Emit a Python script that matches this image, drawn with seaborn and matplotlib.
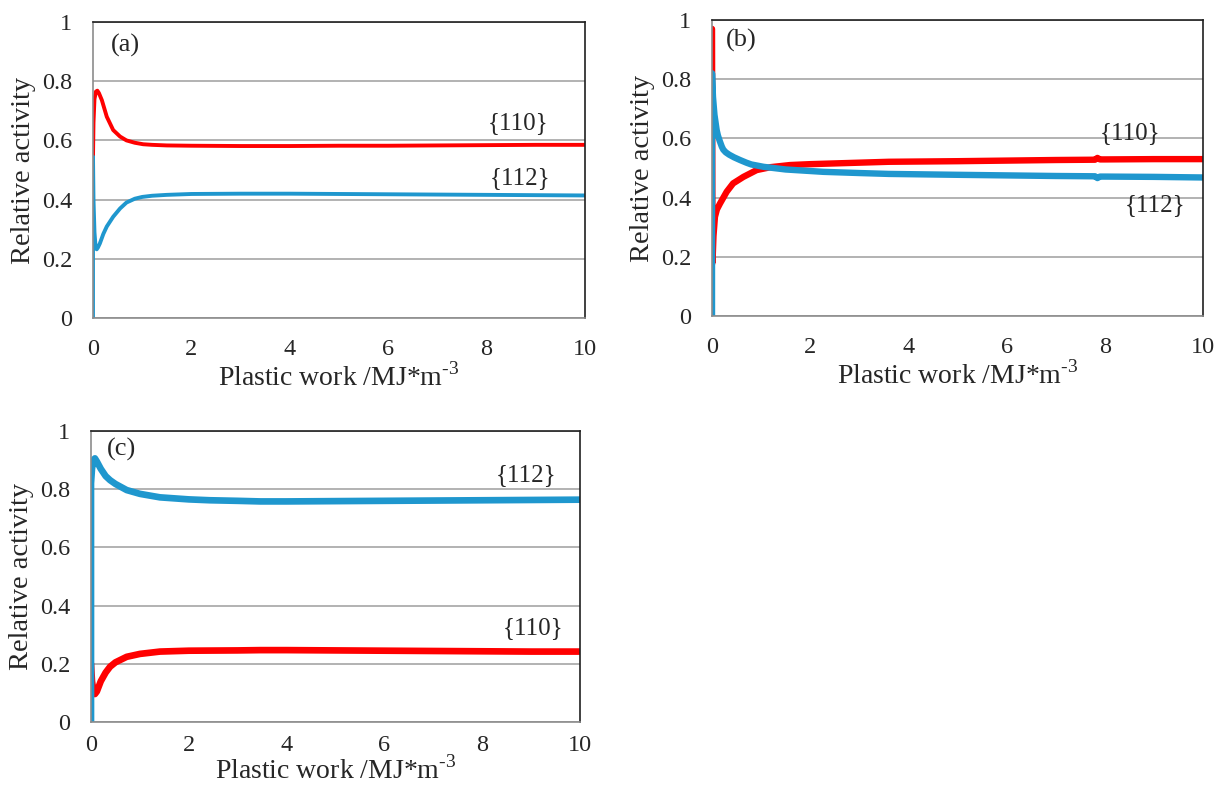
import pandas as pd
import matplotlib.pyplot as plt
import seaborn as sns

# ---------------------------------------------------------------------------
# Data (plastic work in MJ/m^3, relative activity)
# ---------------------------------------------------------------------------
# (a)
a_red_x = [0, 0.01, 0.03, 0.06, 0.088, 0.12, 0.18, 0.28, 0.41, 0.55, 0.68, 0.85, 1.02, 1.2, 1.5, 2, 3, 4, 5, 6, 7, 8, 9, 10]
a_red_y = [0.545, 0.66, 0.74, 0.765, 0.768, 0.76, 0.736, 0.68, 0.635, 0.613, 0.6, 0.592, 0.587, 0.585, 0.583,
           0.582, 0.581, 0.581, 0.582, 0.582, 0.583, 0.584, 0.585, 0.585]
a_blue_x = [0, 0, 0.01, 0.03, 0.05, 0.075, 0.1, 0.14, 0.21, 0.28, 0.41, 0.55, 0.68, 0.85, 1.0, 1.2, 1.5, 2, 3, 4, 5, 6,
            7, 8, 9, 10]
a_blue_y = [0.0, 0.545, 0.40, 0.29, 0.245, 0.232, 0.238, 0.252, 0.284, 0.309, 0.342, 0.37, 0.39, 0.403, 0.409, 0.413,
            0.416, 0.419, 0.42, 0.42, 0.419, 0.418, 0.417, 0.416, 0.415, 0.414]

# (b)
b_red_x = [0, 0.01, 0.03, 0.06, 0.1, 0.163, 0.3, 0.43, 0.64, 0.91, 1.2, 1.59, 2, 3, 3.6, 5, 6, 7, 7.8, 7.85, 7.9, 8, 9, 10]
b_red_y = [0.97, 0.18, 0.27, 0.335, 0.36, 0.38, 0.42, 0.448, 0.47, 0.493, 0.503, 0.51, 0.513, 0.518, 0.521, 0.523,
           0.525, 0.527, 0.528, 0.534, 0.529, 0.529, 0.53, 0.53]
b_blue_x = [0, 0, 0.02, 0.05, 0.095, 0.12, 0.16, 0.2, 0.23, 0.28, 0.35, 0.45, 0.57, 0.7, 0.8, 1.05, 1.5, 2.27, 3, 3.6, 5,
            6, 7, 7.8, 7.85, 7.9, 8, 9, 10]
b_blue_y = [0.0, 0.82, 0.74, 0.68, 0.628, 0.61, 0.59, 0.572, 0.562, 0.553, 0.545, 0.536, 0.527, 0.518, 0.512, 0.504,
            0.495, 0.487, 0.483, 0.48, 0.477, 0.475, 0.473, 0.472, 0.466, 0.471, 0.471, 0.47, 0.468]

# (c)
c_red_x = [0, 0.02, 0.05, 0.08, 0.12, 0.2, 0.3, 0.39, 0.5, 0.73, 1.0, 1.41, 2, 3, 3.46, 4, 5, 6, 7, 8, 9, 10]
c_red_y = [0.2, 0.14, 0.105, 0.096, 0.105, 0.14, 0.17, 0.19, 0.205, 0.224, 0.234, 0.242, 0.245, 0.246, 0.247, 0.247,
           0.246, 0.245, 0.244, 0.243, 0.242, 0.242]
c_blue_x = [0, 0, 0.02, 0.05, 0.08, 0.12, 0.2, 0.3, 0.39, 0.5, 0.73, 1.0, 1.41, 2, 2.43, 3, 3.46, 4, 5, 6, 7, 8, 9, 10]
c_blue_y = [0.0, 0.82, 0.87, 0.9, 0.906, 0.895, 0.87, 0.845, 0.831, 0.818, 0.797, 0.784, 0.772, 0.765, 0.762, 0.76,
            0.758, 0.758, 0.759, 0.76, 0.761, 0.762, 0.763, 0.764]

# curve labels and panel tags (data coordinates)
panels = {
    'a': dict(red=(a_red_x, a_red_y), blue=(a_blue_x, a_blue_y), lw=2.8,
              labels=[('{110}', 8.64, 0.66), ('{112}', 8.68, 0.472)], tag=(0.65, 0.92)),
    'b': dict(red=(b_red_x, b_red_y), blue=(b_blue_x, b_blue_y), lw=4.6,
              labels=[('{110}', 8.51, 0.617), ('{112}', 9.02, 0.375)], tag=(0.6, 0.93)),
    'c': dict(red=(c_red_x, c_red_y), blue=(c_blue_x, c_blue_y), lw=4.8,
              labels=[('{112}', 8.89, 0.849), ('{110}', 9.03, 0.322)], tag=(0.63, 0.938)),
}

sns.set_theme(style='white')
plt.rcParams['font.family'] = ['Liberation Serif', 'DejaVu Serif']
plt.rcParams['mathtext.fontset'] = 'custom'
plt.rcParams['mathtext.rm'] = 'Liberation Serif'

RED = '#FF0000'
BLUE = '#1F97CE'
GRID = '#A6A6A6'

fig = plt.figure(figsize=(12.23, 7.87), dpi=100)
rects = {
    'a': [93 / 1223, 1 - 318 / 787, 492 / 1223, 296 / 787],
    'b': [712 / 1223, 1 - 316 / 787, 491 / 1223, 296 / 787],
    'c': [91 / 1223, 1 - 722 / 787, 489 / 1223, 291 / 787],
}

for key, p in panels.items():
    ax = fig.add_axes(rects[key])
    rx, ry = p['red']
    bx, by = p['blue']
    red_df = pd.DataFrame({'work': rx, 'act': ry})
    blue_df = pd.DataFrame({'work': bx, 'act': by})
    for df, col in [(red_df, RED), (blue_df, BLUE)]:
        sns.lineplot(data=df, x='work', y='act', ax=ax, color=col, lw=p['lw'],
                     estimator=None, sort=False, legend=False)

    ax.set_xlim(0, 10)
    ax.set_ylim(0, 1)
    ax.set_xticks([0, 2, 4, 6, 8, 10])
    ax.set_xticklabels(['0', '2', '4', '6', '8', '10'])
    ax.set_yticks([0, 0.2, 0.4, 0.6, 0.8, 1])
    ax.set_yticklabels(['0', '0.2', '0.4', '0.6', '0.8', '1'])
    ax.yaxis.grid(True, color=GRID, lw=1.2)
    ax.set_axisbelow(True)
    xpad = 9.5 if key == 'c' else 15
    ax.tick_params(axis='x', direction='in', length=5, width=1, color='#808080', labelsize=17.5, pad=xpad)
    ax.tick_params(axis='y', length=0, labelsize=17.5, pad=15)
    for s in ['left', 'bottom']:
        ax.spines[s].set_color('#8C8C8C')
        ax.spines[s].set_linewidth(1.2)
    for s in ['top', 'right']:
        ax.spines[s].set_color('#202020')
        ax.spines[s].set_linewidth(1.2)
    ax.set_xlabel(r'Plastic work /MJ*m$^{\text{-3}}$', fontsize=20, labelpad=0 if key == 'c' else 2)
    ax.set_ylabel('Relative activity', fontsize=20.5, labelpad=4)
    for txt, tx, ty in p['labels']:
        ax.text(tx, ty, txt, fontsize=18, ha='center', va='center')
    ax.text(p['tag'][0], p['tag'][1], f'({key})', fontsize=19, ha='center', va='center')

fig.savefig('out.png', dpi=100)
